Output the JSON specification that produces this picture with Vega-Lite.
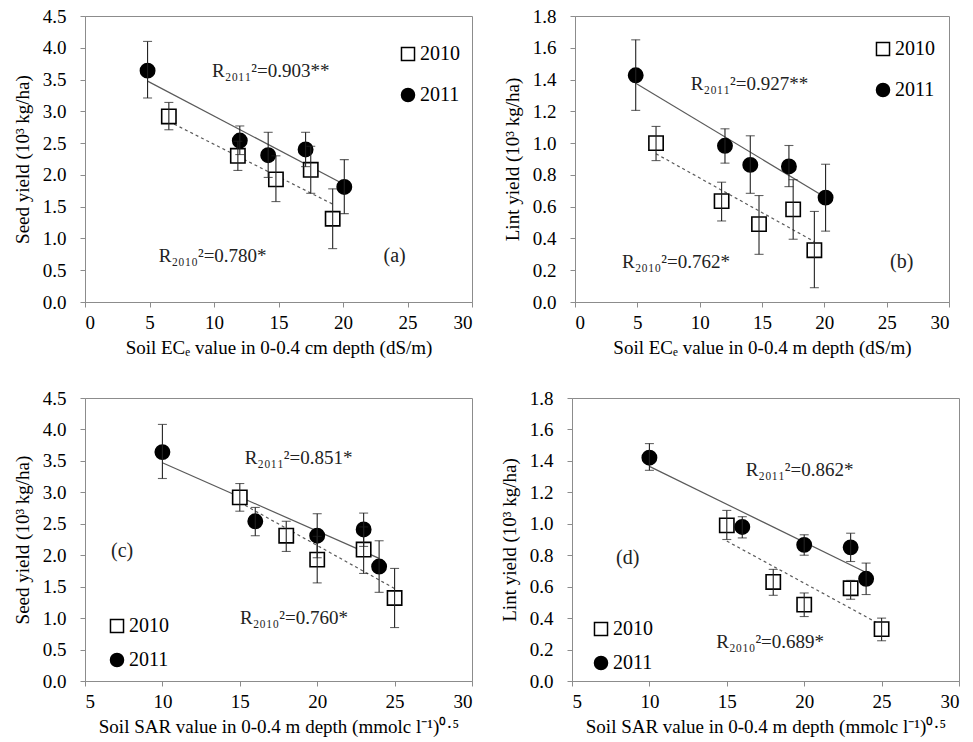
{
  "$schema": "https://vega.github.io/schema/vega-lite/v6.json",
  "background": "white",
  "padding": {"left": 12, "top": 6, "right": 5, "bottom": 5},
  "config": {
    "font": "Liberation Serif",
    "view": {"stroke": "#8c8c8c", "strokeWidth": 1},
    "axis": {"grid": false, "labelOverlap": false, "domainColor": "#8c8c8c", "tickColor": "#8c8c8c", "tickSize": 5, "labelFont": "Liberation Serif", "labelFontSize": 19, "labelColor": "#000", "titleFont": "Liberation Serif", "titleFontSize": 19, "titleFontWeight": "normal", "titleColor": "#000"},
    "axisX": {"labelPadding": 6, "titlePadding": 6},
    "axisY": {"labelPadding": 14, "titlePadding": 10},
    "legend": {"labelFont": "Liberation Serif", "labelFontSize": 20, "labelColor": "#000", "symbolSize": 170, "symbolStrokeWidth": 1.5, "labelOffset": 2, "padding": 0}
  },
  "datasets": {
    "a_pts": [
      {"year": "2010", "x": 6.5, "y": 2.92, "lo": 2.71, "hi": 3.14},
      {"year": "2010", "x": 11.85, "y": 2.30, "lo": 2.07, "hi": 2.53},
      {"year": "2010", "x": 14.8, "y": 1.93, "lo": 1.58, "hi": 2.30},
      {"year": "2010", "x": 17.5, "y": 2.08, "lo": 1.71, "hi": 2.45},
      {"year": "2010", "x": 19.2, "y": 1.31, "lo": 0.84, "hi": 1.78},
      {"year": "2011", "x": 4.85, "y": 3.64, "lo": 3.21, "hi": 4.10},
      {"year": "2011", "x": 12.0, "y": 2.54, "lo": 2.32, "hi": 2.77},
      {"year": "2011", "x": 14.2, "y": 2.31, "lo": 1.96, "hi": 2.67},
      {"year": "2011", "x": 17.1, "y": 2.40, "lo": 2.13, "hi": 2.67},
      {"year": "2011", "x": 20.1, "y": 1.81, "lo": 1.39, "hi": 2.24}
    ],
    "a_fit": [
      {"year": "2011", "x": 4.85, "y": 3.475},
      {"year": "2011", "x": 20.1, "y": 1.85},
      {"year": "2010", "x": 6.5, "y": 2.84},
      {"year": "2010", "x": 19.2, "y": 1.54}
    ],
    "b_pts": [
      {"year": "2010", "x": 6.5, "y": 1.00, "lo": 0.89, "hi": 1.105},
      {"year": "2010", "x": 11.76, "y": 0.635, "lo": 0.51, "hi": 0.754},
      {"year": "2010", "x": 14.76, "y": 0.49, "lo": 0.30, "hi": 0.67},
      {"year": "2010", "x": 17.5, "y": 0.583, "lo": 0.395, "hi": 0.77},
      {"year": "2010", "x": 19.2, "y": 0.326, "lo": 0.09, "hi": 0.57},
      {"year": "2011", "x": 4.87, "y": 1.427, "lo": 1.206, "hi": 1.65},
      {"year": "2011", "x": 12.03, "y": 0.983, "lo": 0.874, "hi": 1.09},
      {"year": "2011", "x": 14.06, "y": 0.863, "lo": 0.684, "hi": 1.046},
      {"year": "2011", "x": 17.16, "y": 0.853, "lo": 0.726, "hi": 0.985},
      {"year": "2011", "x": 20.1, "y": 0.657, "lo": 0.446, "hi": 0.867}
    ],
    "b_fit": [
      {"year": "2011", "x": 4.87, "y": 1.377},
      {"year": "2011", "x": 20.1, "y": 0.658},
      {"year": "2010", "x": 6.5, "y": 0.933},
      {"year": "2010", "x": 19.2, "y": 0.38}
    ],
    "c_pts": [
      {"year": "2010", "x": 15, "y": 2.92, "lo": 2.70, "hi": 3.14},
      {"year": "2010", "x": 18, "y": 2.31, "lo": 2.06, "hi": 2.54},
      {"year": "2010", "x": 20, "y": 1.93, "lo": 1.56, "hi": 2.30},
      {"year": "2010", "x": 23, "y": 2.09, "lo": 1.71, "hi": 2.45},
      {"year": "2010", "x": 25, "y": 1.32, "lo": 0.85, "hi": 1.79},
      {"year": "2011", "x": 10, "y": 3.64, "lo": 3.22, "hi": 4.08},
      {"year": "2011", "x": 16, "y": 2.54, "lo": 2.31, "hi": 2.76},
      {"year": "2011", "x": 20, "y": 2.31, "lo": 1.96, "hi": 2.66},
      {"year": "2011", "x": 23, "y": 2.41, "lo": 2.14, "hi": 2.67},
      {"year": "2011", "x": 24, "y": 1.82, "lo": 1.41, "hi": 2.23}
    ],
    "c_fit": [
      {"year": "2011", "x": 10, "y": 3.47},
      {"year": "2011", "x": 24, "y": 1.95},
      {"year": "2010", "x": 15, "y": 2.84},
      {"year": "2010", "x": 25, "y": 1.47}
    ],
    "d_pts": [
      {"year": "2010", "x": 15, "y": 0.99, "lo": 0.90, "hi": 1.085},
      {"year": "2010", "x": 18, "y": 0.63, "lo": 0.545, "hi": 0.71},
      {"year": "2010", "x": 20, "y": 0.486, "lo": 0.41, "hi": 0.56},
      {"year": "2010", "x": 23, "y": 0.59, "lo": 0.52, "hi": 0.64},
      {"year": "2010", "x": 25, "y": 0.33, "lo": 0.256, "hi": 0.40},
      {"year": "2011", "x": 10, "y": 1.42, "lo": 1.34, "hi": 1.51},
      {"year": "2011", "x": 16, "y": 0.98, "lo": 0.91, "hi": 1.045},
      {"year": "2011", "x": 20, "y": 0.866, "lo": 0.80, "hi": 0.93},
      {"year": "2011", "x": 23, "y": 0.85, "lo": 0.76, "hi": 0.94},
      {"year": "2011", "x": 24, "y": 0.65, "lo": 0.55, "hi": 0.75}
    ],
    "d_fit": [
      {"year": "2011", "x": 10, "y": 1.365},
      {"year": "2011", "x": 24, "y": 0.69},
      {"year": "2010", "x": 15, "y": 0.89},
      {"year": "2010", "x": 25, "y": 0.355}
    ]
  },
  "spacing": 30,
  "resolve": {"scale": {"x": "independent", "y": "independent", "shape": "independent", "fill": "independent", "stroke": "independent"}, "legend": {"shape": "independent", "fill": "independent", "stroke": "independent"}},
  "vconcat": [
    {
      "spacing": 29,
      "resolve": {"scale": {"x": "independent", "y": "independent", "shape": "independent", "fill": "independent", "stroke": "independent"}, "legend": {"shape": "independent", "fill": "independent", "stroke": "independent"}},
      "hconcat": [
        {
          "width": 387, "height": 286,
          "layer": [
            {
              "encoding": {
                "x": {"field": "x", "type": "quantitative", "scale": {"domain": [0, 30], "nice": false}, "axis": {"values": [0, 5, 10, 15, 20, 25, 30], "labelOverlap": false}, "title": "Soil ECₑ value in 0-0.4 cm depth (dS/m)"},
                "y": {"field": "y", "type": "quantitative", "scale": {"domain": [0, 4.5], "nice": false}, "axis": {"values": [0, 0.5, 1, 1.5, 2, 2.5, 3, 3.5, 4, 4.5], "format": ".1f", "labelOverlap": false}, "title": "Seed yield (10³ kg/ha)"}
              },
              "layer": [
                {"data": {"name": "a_fit"}, "transform": [{"filter": "datum.year == '2011'"}], "mark": {"type": "line", "color": "#5a5a5a", "strokeWidth": 1.2}},
                {"data": {"name": "a_fit"}, "transform": [{"filter": "datum.year == '2010'"}], "mark": {"type": "line", "color": "#5a5a5a", "strokeWidth": 1.2, "strokeDash": [3, 3]}},
                {"data": {"name": "a_pts"}, "mark": {"type": "point", "filled": true, "strokeWidth": 1.6, "opacity": 1, "size": 205},
                 "encoding": {
                   "shape": {"field": "year", "type": "nominal", "scale": {"domain": ["2010", "2011"], "range": ["square", "circle"]}, "legend": {"title": null, "orient": "none", "legendX": 313, "legendY": 28, "rowPadding": 21}},
                   "fill": {"field": "year", "type": "nominal", "scale": {"domain": ["2010", "2011"], "range": ["white", "black"]}, "legend": {"title": null, "orient": "none", "legendX": 313, "legendY": 28, "rowPadding": 21}},
                   "stroke": {"field": "year", "type": "nominal", "scale": {"domain": ["2010", "2011"], "range": ["black", "black"]}, "legend": {"title": null, "orient": "none", "legendX": 313, "legendY": 28, "rowPadding": 21}}
                 }},
                {"data": {"name": "a_pts"}, "mark": {"type": "rule", "color": "#222", "strokeWidth": 1.1},
                 "encoding": {"y": {"field": "lo", "type": "quantitative"}, "y2": {"field": "hi"}}},
                {"data": {"name": "a_pts"}, "mark": {"type": "tick", "orient": "horizontal", "size": 9, "thickness": 1.1, "color": "#222"},
                 "encoding": {"y": {"field": "hi", "type": "quantitative"}}},
                {"data": {"name": "a_pts"}, "mark": {"type": "tick", "orient": "horizontal", "size": 9, "thickness": 1.1, "color": "#222"},
                 "encoding": {"y": {"field": "lo", "type": "quantitative"}}}
              ]
            },
            {"data": {"values": [{}]}, "mark": {"type": "text", "text": "R₂₀₁₁²=0.903**", "fontSize": 19, "color": "#222"},
             "encoding": {
               "x": {"datum": 14.4, "type": "quantitative", "scale": {"domain": [0, 30], "nice": false}, "axis": {"values": [0, 5, 10, 15, 20, 25, 30], "labelOverlap": false}, "title": "Soil ECₑ value in 0-0.4 cm depth (dS/m)"},
               "y": {"datum": 3.63, "type": "quantitative", "scale": {"domain": [0, 4.5], "nice": false}, "axis": {"values": [0, 0.5, 1, 1.5, 2, 2.5, 3, 3.5, 4, 4.5], "format": ".1f", "labelOverlap": false}, "title": "Seed yield (10³ kg/ha)"}
             }},
            {"data": {"values": [{}]}, "mark": {"type": "text", "text": "R₂₀₁₀²=0.780*", "fontSize": 19, "color": "#222"},
             "encoding": {
               "x": {"datum": 9.9, "type": "quantitative", "scale": {"domain": [0, 30], "nice": false}, "axis": {"values": [0, 5, 10, 15, 20, 25, 30], "labelOverlap": false}, "title": "Soil ECₑ value in 0-0.4 cm depth (dS/m)"},
               "y": {"datum": 0.73, "type": "quantitative", "scale": {"domain": [0, 4.5], "nice": false}, "axis": {"values": [0, 0.5, 1, 1.5, 2, 2.5, 3, 3.5, 4, 4.5], "format": ".1f", "labelOverlap": false}, "title": "Seed yield (10³ kg/ha)"}
             }},
            {"data": {"values": [{}]}, "mark": {"type": "text", "text": "(a)", "fontSize": 20, "color": "#222"},
             "encoding": {
               "x": {"datum": 24, "type": "quantitative", "scale": {"domain": [0, 30], "nice": false}, "axis": {"values": [0, 5, 10, 15, 20, 25, 30], "labelOverlap": false}, "title": "Soil ECₑ value in 0-0.4 cm depth (dS/m)"},
               "y": {"datum": 0.73, "type": "quantitative", "scale": {"domain": [0, 4.5], "nice": false}, "axis": {"values": [0, 0.5, 1, 1.5, 2, 2.5, 3, 3.5, 4, 4.5], "format": ".1f", "labelOverlap": false}, "title": "Seed yield (10³ kg/ha)"}
             }}
          ]
        },
        {
          "width": 374, "height": 286,
          "layer": [
            {
              "encoding": {
                "x": {"field": "x", "type": "quantitative", "scale": {"domain": [0, 30], "nice": false}, "axis": {"values": [0, 5, 10, 15, 20, 25, 30], "labelOverlap": false}, "title": "Soil ECₑ value in 0-0.4 m depth (dS/m)"},
                "y": {"field": "y", "type": "quantitative", "scale": {"domain": [0, 1.8], "nice": false}, "axis": {"values": [0, 0.2, 0.4, 0.6, 0.8, 1, 1.2, 1.4, 1.6, 1.8], "format": ".1f", "labelOverlap": false}, "title": "Lint yield (10³ kg/ha)"}
              },
              "layer": [
                {"data": {"name": "b_fit"}, "transform": [{"filter": "datum.year == '2011'"}], "mark": {"type": "line", "color": "#5a5a5a", "strokeWidth": 1.2}},
                {"data": {"name": "b_fit"}, "transform": [{"filter": "datum.year == '2010'"}], "mark": {"type": "line", "color": "#5a5a5a", "strokeWidth": 1.2, "strokeDash": [3, 3]}},
                {"data": {"name": "b_pts"}, "mark": {"type": "point", "filled": true, "strokeWidth": 1.6, "opacity": 1, "size": 205},
                 "encoding": {
                   "shape": {"field": "year", "type": "nominal", "scale": {"domain": ["2010", "2011"], "range": ["square", "circle"]}, "legend": {"title": null, "orient": "none", "legendX": 298, "legendY": 23, "rowPadding": 21}},
                   "fill": {"field": "year", "type": "nominal", "scale": {"domain": ["2010", "2011"], "range": ["white", "black"]}, "legend": {"title": null, "orient": "none", "legendX": 298, "legendY": 23, "rowPadding": 21}},
                   "stroke": {"field": "year", "type": "nominal", "scale": {"domain": ["2010", "2011"], "range": ["black", "black"]}, "legend": {"title": null, "orient": "none", "legendX": 298, "legendY": 23, "rowPadding": 21}}
                 }},
                {"data": {"name": "b_pts"}, "mark": {"type": "rule", "color": "#222", "strokeWidth": 1.1},
                 "encoding": {"y": {"field": "lo", "type": "quantitative"}, "y2": {"field": "hi"}}},
                {"data": {"name": "b_pts"}, "mark": {"type": "tick", "orient": "horizontal", "size": 9, "thickness": 1.1, "color": "#222"},
                 "encoding": {"y": {"field": "hi", "type": "quantitative"}}},
                {"data": {"name": "b_pts"}, "mark": {"type": "tick", "orient": "horizontal", "size": 9, "thickness": 1.1, "color": "#222"},
                 "encoding": {"y": {"field": "lo", "type": "quantitative"}}}
              ]
            },
            {"data": {"values": [{}]}, "mark": {"type": "text", "text": "R₂₀₁₁²=0.927**", "fontSize": 19, "color": "#222"},
             "encoding": {
               "x": {"datum": 14.0, "type": "quantitative", "scale": {"domain": [0, 30], "nice": false}, "axis": {"values": [0, 5, 10, 15, 20, 25, 30], "labelOverlap": false}, "title": "Soil ECₑ value in 0-0.4 m depth (dS/m)"},
               "y": {"datum": 1.37, "type": "quantitative", "scale": {"domain": [0, 1.8], "nice": false}, "axis": {"values": [0, 0.2, 0.4, 0.6, 0.8, 1, 1.2, 1.4, 1.6, 1.8], "format": ".1f", "labelOverlap": false}, "title": "Lint yield (10³ kg/ha)"}
             }},
            {"data": {"values": [{}]}, "mark": {"type": "text", "text": "R₂₀₁₀²=0.762*", "fontSize": 19, "color": "#222"},
             "encoding": {
               "x": {"datum": 8.1, "type": "quantitative", "scale": {"domain": [0, 30], "nice": false}, "axis": {"values": [0, 5, 10, 15, 20, 25, 30], "labelOverlap": false}, "title": "Soil ECₑ value in 0-0.4 m depth (dS/m)"},
               "y": {"datum": 0.25, "type": "quantitative", "scale": {"domain": [0, 1.8], "nice": false}, "axis": {"values": [0, 0.2, 0.4, 0.6, 0.8, 1, 1.2, 1.4, 1.6, 1.8], "format": ".1f", "labelOverlap": false}, "title": "Lint yield (10³ kg/ha)"}
             }},
            {"data": {"values": [{}]}, "mark": {"type": "text", "text": "(b)", "fontSize": 20, "color": "#222"},
             "encoding": {
               "x": {"datum": 26.2, "type": "quantitative", "scale": {"domain": [0, 30], "nice": false}, "axis": {"values": [0, 5, 10, 15, 20, 25, 30], "labelOverlap": false}, "title": "Soil ECₑ value in 0-0.4 m depth (dS/m)"},
               "y": {"datum": 0.25, "type": "quantitative", "scale": {"domain": [0, 1.8], "nice": false}, "axis": {"values": [0, 0.2, 0.4, 0.6, 0.8, 1, 1.2, 1.4, 1.6, 1.8], "format": ".1f", "labelOverlap": false}, "title": "Lint yield (10³ kg/ha)"}
             }}
          ]
        }
      ]
    },
    {
      "spacing": 26,
      "resolve": {"scale": {"x": "independent", "y": "independent", "shape": "independent", "fill": "independent", "stroke": "independent"}, "legend": {"shape": "independent", "fill": "independent", "stroke": "independent"}},
      "hconcat": [
        {
          "width": 387, "height": 283,
          "layer": [
            {
              "encoding": {
                "x": {"field": "x", "type": "quantitative", "scale": {"domain": [5, 30], "nice": false}, "axis": {"values": [5, 10, 15, 20, 25, 30], "labelOverlap": false}, "title": "Soil SAR value in 0-0.4 m depth (mmolc l⁻¹)⁰·⁵"},
                "y": {"field": "y", "type": "quantitative", "scale": {"domain": [0, 4.5], "nice": false}, "axis": {"values": [0, 0.5, 1, 1.5, 2, 2.5, 3, 3.5, 4, 4.5], "format": ".1f", "labelOverlap": false}, "title": "Seed yield (10³ kg/ha)"}
              },
              "layer": [
                {"data": {"name": "c_fit"}, "transform": [{"filter": "datum.year == '2011'"}], "mark": {"type": "line", "color": "#5a5a5a", "strokeWidth": 1.2}},
                {"data": {"name": "c_fit"}, "transform": [{"filter": "datum.year == '2010'"}], "mark": {"type": "line", "color": "#5a5a5a", "strokeWidth": 1.2, "strokeDash": [3, 3]}},
                {"data": {"name": "c_pts"}, "mark": {"type": "point", "filled": true, "strokeWidth": 1.6, "opacity": 1, "size": 205},
                 "encoding": {
                   "shape": {"field": "year", "type": "nominal", "scale": {"domain": ["2010", "2011"], "range": ["square", "circle"]}, "legend": {"title": null, "orient": "none", "legendX": 22, "legendY": 218, "rowPadding": 14}},
                   "fill": {"field": "year", "type": "nominal", "scale": {"domain": ["2010", "2011"], "range": ["white", "black"]}, "legend": {"title": null, "orient": "none", "legendX": 22, "legendY": 218, "rowPadding": 14}},
                   "stroke": {"field": "year", "type": "nominal", "scale": {"domain": ["2010", "2011"], "range": ["black", "black"]}, "legend": {"title": null, "orient": "none", "legendX": 22, "legendY": 218, "rowPadding": 14}}
                 }},
                {"data": {"name": "c_pts"}, "mark": {"type": "rule", "color": "#222", "strokeWidth": 1.1},
                 "encoding": {"y": {"field": "lo", "type": "quantitative"}, "y2": {"field": "hi"}}},
                {"data": {"name": "c_pts"}, "mark": {"type": "tick", "orient": "horizontal", "size": 9, "thickness": 1.1, "color": "#222"},
                 "encoding": {"y": {"field": "hi", "type": "quantitative"}}},
                {"data": {"name": "c_pts"}, "mark": {"type": "tick", "orient": "horizontal", "size": 9, "thickness": 1.1, "color": "#222"},
                 "encoding": {"y": {"field": "lo", "type": "quantitative"}}}
              ]
            },
            {"data": {"values": [{}]}, "mark": {"type": "text", "text": "R₂₀₁₁²=0.851*", "fontSize": 19, "color": "#222"},
             "encoding": {
               "x": {"datum": 18.8, "type": "quantitative", "scale": {"domain": [5, 30], "nice": false}, "axis": {"values": [5, 10, 15, 20, 25, 30], "labelOverlap": false}, "title": "Soil SAR value in 0-0.4 m depth (mmolc l⁻¹)⁰·⁵"},
               "y": {"datum": 3.54, "type": "quantitative", "scale": {"domain": [0, 4.5], "nice": false}, "axis": {"values": [0, 0.5, 1, 1.5, 2, 2.5, 3, 3.5, 4, 4.5], "format": ".1f", "labelOverlap": false}, "title": "Seed yield (10³ kg/ha)"}
             }},
            {"data": {"values": [{}]}, "mark": {"type": "text", "text": "R₂₀₁₀²=0.760*", "fontSize": 19, "color": "#222"},
             "encoding": {
               "x": {"datum": 18.5, "type": "quantitative", "scale": {"domain": [5, 30], "nice": false}, "axis": {"values": [5, 10, 15, 20, 25, 30], "labelOverlap": false}, "title": "Soil SAR value in 0-0.4 m depth (mmolc l⁻¹)⁰·⁵"},
               "y": {"datum": 1.0, "type": "quantitative", "scale": {"domain": [0, 4.5], "nice": false}, "axis": {"values": [0, 0.5, 1, 1.5, 2, 2.5, 3, 3.5, 4, 4.5], "format": ".1f", "labelOverlap": false}, "title": "Seed yield (10³ kg/ha)"}
             }},
            {"data": {"values": [{}]}, "mark": {"type": "text", "text": "(c)", "fontSize": 20, "color": "#222"},
             "encoding": {
               "x": {"datum": 7.4, "type": "quantitative", "scale": {"domain": [5, 30], "nice": false}, "axis": {"values": [5, 10, 15, 20, 25, 30], "labelOverlap": false}, "title": "Soil SAR value in 0-0.4 m depth (mmolc l⁻¹)⁰·⁵"},
               "y": {"datum": 2.06, "type": "quantitative", "scale": {"domain": [0, 4.5], "nice": false}, "axis": {"values": [0, 0.5, 1, 1.5, 2, 2.5, 3, 3.5, 4, 4.5], "format": ".1f", "labelOverlap": false}, "title": "Seed yield (10³ kg/ha)"}
             }}
          ]
        },
        {
          "width": 387, "height": 283,
          "layer": [
            {
              "encoding": {
                "x": {"field": "x", "type": "quantitative", "scale": {"domain": [5, 30], "nice": false}, "axis": {"values": [5, 10, 15, 20, 25, 30], "labelOverlap": false}, "title": "Soil SAR value in 0-0.4 m depth (mmolc l⁻¹)⁰·⁵"},
                "y": {"field": "y", "type": "quantitative", "scale": {"domain": [0, 1.8], "nice": false}, "axis": {"values": [0, 0.2, 0.4, 0.6, 0.8, 1, 1.2, 1.4, 1.6, 1.8], "format": ".1f", "labelOverlap": false}, "title": "Lint yield (10³ kg/ha)"}
              },
              "layer": [
                {"data": {"name": "d_fit"}, "transform": [{"filter": "datum.year == '2011'"}], "mark": {"type": "line", "color": "#5a5a5a", "strokeWidth": 1.2}},
                {"data": {"name": "d_fit"}, "transform": [{"filter": "datum.year == '2010'"}], "mark": {"type": "line", "color": "#5a5a5a", "strokeWidth": 1.2, "strokeDash": [3, 3]}},
                {"data": {"name": "d_pts"}, "mark": {"type": "point", "filled": true, "strokeWidth": 1.6, "opacity": 1, "size": 205},
                 "encoding": {
                   "shape": {"field": "year", "type": "nominal", "scale": {"domain": ["2010", "2011"], "range": ["square", "circle"]}, "legend": {"title": null, "orient": "none", "legendX": 19, "legendY": 221, "rowPadding": 14}},
                   "fill": {"field": "year", "type": "nominal", "scale": {"domain": ["2010", "2011"], "range": ["white", "black"]}, "legend": {"title": null, "orient": "none", "legendX": 19, "legendY": 221, "rowPadding": 14}},
                   "stroke": {"field": "year", "type": "nominal", "scale": {"domain": ["2010", "2011"], "range": ["black", "black"]}, "legend": {"title": null, "orient": "none", "legendX": 19, "legendY": 221, "rowPadding": 14}}
                 }},
                {"data": {"name": "d_pts"}, "mark": {"type": "rule", "color": "#222", "strokeWidth": 1.1},
                 "encoding": {"y": {"field": "lo", "type": "quantitative"}, "y2": {"field": "hi"}}},
                {"data": {"name": "d_pts"}, "mark": {"type": "tick", "orient": "horizontal", "size": 9, "thickness": 1.1, "color": "#222"},
                 "encoding": {"y": {"field": "hi", "type": "quantitative"}}},
                {"data": {"name": "d_pts"}, "mark": {"type": "tick", "orient": "horizontal", "size": 9, "thickness": 1.1, "color": "#222"},
                 "encoding": {"y": {"field": "lo", "type": "quantitative"}}}
              ]
            },
            {"data": {"values": [{}]}, "mark": {"type": "text", "text": "R₂₀₁₁²=0.862*", "fontSize": 19, "color": "#222"},
             "encoding": {
               "x": {"datum": 19.7, "type": "quantitative", "scale": {"domain": [5, 30], "nice": false}, "axis": {"values": [5, 10, 15, 20, 25, 30], "labelOverlap": false}, "title": "Soil SAR value in 0-0.4 m depth (mmolc l⁻¹)⁰·⁵"},
               "y": {"datum": 1.345, "type": "quantitative", "scale": {"domain": [0, 1.8], "nice": false}, "axis": {"values": [0, 0.2, 0.4, 0.6, 0.8, 1, 1.2, 1.4, 1.6, 1.8], "format": ".1f", "labelOverlap": false}, "title": "Lint yield (10³ kg/ha)"}
             }},
            {"data": {"values": [{}]}, "mark": {"type": "text", "text": "R₂₀₁₀²=0.689*", "fontSize": 19, "color": "#222"},
             "encoding": {
               "x": {"datum": 17.8, "type": "quantitative", "scale": {"domain": [5, 30], "nice": false}, "axis": {"values": [5, 10, 15, 20, 25, 30], "labelOverlap": false}, "title": "Soil SAR value in 0-0.4 m depth (mmolc l⁻¹)⁰·⁵"},
               "y": {"datum": 0.245, "type": "quantitative", "scale": {"domain": [0, 1.8], "nice": false}, "axis": {"values": [0, 0.2, 0.4, 0.6, 0.8, 1, 1.2, 1.4, 1.6, 1.8], "format": ".1f", "labelOverlap": false}, "title": "Lint yield (10³ kg/ha)"}
             }},
            {"data": {"values": [{}]}, "mark": {"type": "text", "text": "(d)", "fontSize": 20, "color": "#222"},
             "encoding": {
               "x": {"datum": 8.6, "type": "quantitative", "scale": {"domain": [5, 30], "nice": false}, "axis": {"values": [5, 10, 15, 20, 25, 30], "labelOverlap": false}, "title": "Soil SAR value in 0-0.4 m depth (mmolc l⁻¹)⁰·⁵"},
               "y": {"datum": 0.78, "type": "quantitative", "scale": {"domain": [0, 1.8], "nice": false}, "axis": {"values": [0, 0.2, 0.4, 0.6, 0.8, 1, 1.2, 1.4, 1.6, 1.8], "format": ".1f", "labelOverlap": false}, "title": "Lint yield (10³ kg/ha)"}
             }}
          ]
        }
      ]
    }
  ]
}
